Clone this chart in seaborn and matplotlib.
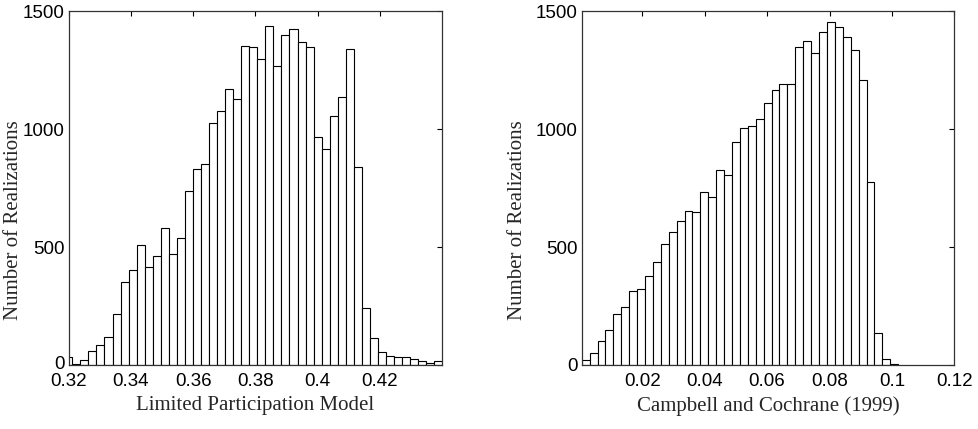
import numpy as np
import pandas as pd
import matplotlib
matplotlib.use("Agg")
import matplotlib.pyplot as plt
import matplotlib.transforms as mtransforms
import seaborn as sns

# bin counts
lpm_counts = [35, 6, 20, 60, 85, 118, 216, 352, 402, 507, 416, 464, 582, 469,
              540, 737, 831, 852, 1027, 1076, 1169, 1126, 1352, 1346, 1298,
              1438, 1268, 1399, 1424, 1369, 1346, 968, 917, 1054, 1135, 1338,
              838, 240, 114, 54, 40, 33, 33, 24, 16, 10, 16]
lpm_start = 0.31857
lpm_width = 0.002584

cc_counts = [20, 50, 101, 149, 216, 247, 315, 324, 378, 437, 511, 564, 611,
             652, 648, 734, 711, 825, 807, 946, 1003, 1014, 1041, 1112, 1164,
             1189, 1191, 1346, 1372, 1323, 1411, 1453, 1434, 1392, 1335, 1207,
             774, 135, 24, 4]
cc_start = 0.0006
cc_width = 0.002535

lpm_ticks = [0.32, 0.34, 0.36, 0.38, 0.40, 0.42]
cc_ticks = [0.02, 0.04, 0.06, 0.08, 0.10, 0.12]
y_ticks = [0, 500, 1000, 1500]

sns.set_style("white")
plt.rcParams['font.family'] = ['Liberation Sans', 'DejaVu Sans']

fig = plt.figure(figsize=(9.79, 4.29), dpi=100)
ax1 = fig.add_axes([0.0702, 0.1492, 0.3815, 0.825])
ax2 = fig.add_axes([0.5942, 0.1492, 0.3806, 0.825])


def draw(ax, counts, start, width, xlim, ticks, xlabel, ylab_x, nudge0=0.0):
    n = len(counts)
    centers = start + width * (np.arange(n) + 0.5)
    df = pd.DataFrame({"center": centers,
                       "count": np.array(counts, dtype=float)})
    sns.histplot(data=df, x="center", weights="count", binwidth=width,
                 binrange=(start, start + n * width), ax=ax,
                 color="white", edgecolor="black", linewidth=0.8, alpha=1)
    ax.set_xlim(*xlim)
    ax.set_ylim(0, 1500)
    ax.set_xticks(ticks)
    ax.set_xticklabels(["%g" % t for t in ticks])
    ax.set_yticks(y_ticks)
    ax.set_yticklabels([str(t) for t in y_ticks])
    ax.tick_params(direction="in", length=3.5, width=0.8, top=True, right=True,
                   labelsize=13.5, colors="black")
    ax.tick_params(axis="x", pad=6)
    ax.tick_params(axis="y", pad=3)
    for s in ax.spines.values():
        s.set_visible(True)
        s.set_color("#333333")
        s.set_linewidth(0.9)
    ax.set_xlabel(xlabel, family="Liberation Serif", fontsize=15, labelpad=4)
    ax.set_ylabel("Number of Realizations", family="Liberation Serif",
                  fontsize=15)
    ax.yaxis.label.set_va("center")
    ax.yaxis.set_label_coords(ylab_x, 0.41)
    if nudge0:
        # lift the "0" count label slightly so it clears the first x label
        lab0 = ax.get_yticklabels()[0]
        lab0.set_transform(lab0.get_transform() +
                           mtransforms.ScaledTranslation(0, nudge0 / 72,
                                                         fig.dpi_scale_trans))


draw(ax1, lpm_counts, lpm_start, lpm_width, (0.32, 0.44), lpm_ticks,
     "Limited Participation Model", -0.149, nudge0=1.5)
draw(ax2, cc_counts, cc_start, cc_width, (0.0006, 0.12), cc_ticks,
     "Campbell and Cochrane (1999)", -0.172)

fig.savefig("out.png", dpi=100)
